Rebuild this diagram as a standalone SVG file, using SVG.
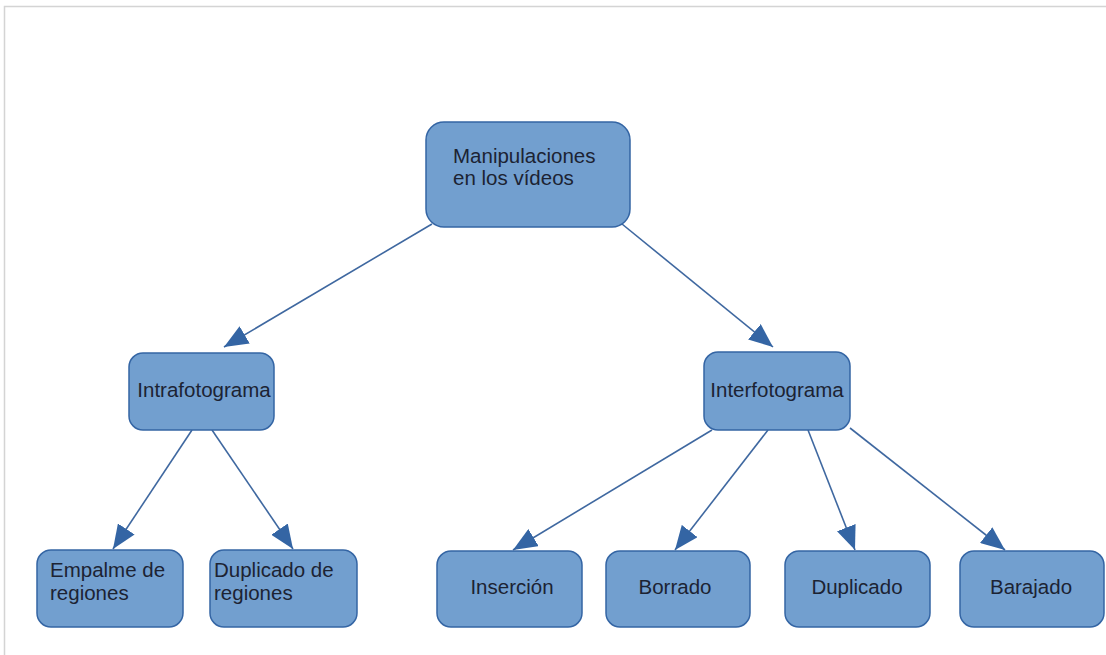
<svg xmlns="http://www.w3.org/2000/svg" width="1106" height="655" viewBox="0 0 1106 655">
  <style>
    .box { fill: #729fcf; stroke: #3465a4; stroke-width: 1.5; }
    .lbl { font-family: "Liberation Sans", Arial, sans-serif; font-size: 20.5px; fill: #1c2333; }
    .mid { text-anchor: middle; }
    .edge { stroke: #3f68a0; stroke-width: 1.6; fill: none; marker-end: url(#arrow); }
  </style>
  <defs>
    <marker id="arrow" viewBox="0 0 24 20" refX="24" refY="10" markerWidth="24" markerHeight="20" markerUnits="userSpaceOnUse" orient="auto">
      <path d="M0,0 L24,10 L0,20 Z" fill="#3465a4"/>
    </marker>
  </defs>
  <rect width="1106" height="655" fill="#ffffff"/>
  <!-- page frame -->
  <path d="M4.5,655 V6.5 H1106" fill="none" stroke="#d4d4d4" stroke-width="1.5"/>

  <g id="connectors">
    <line class="edge" x1="432" y1="224" x2="224" y2="347"/>
    <line class="edge" x1="622" y1="224" x2="773" y2="347"/>
    <line class="edge" x1="192" y1="430" x2="113" y2="549"/>
    <line class="edge" x1="212" y1="430" x2="293" y2="549"/>
    <line class="edge" x1="712" y1="430" x2="513" y2="550"/>
    <line class="edge" x1="768" y1="430" x2="675" y2="550"/>
    <line class="edge" x1="808" y1="430" x2="855" y2="550"/>
    <line class="edge" x1="850" y1="428" x2="1005" y2="550"/>
  </g>

  <g id="root">
    <rect class="box" x="426" y="122" width="204" height="105" rx="18"/>
    <text class="lbl" x="453" y="163">Manipulaciones</text>
    <text class="lbl" x="453" y="185">en los vídeos</text>
  </g>
  <g id="intra">
    <rect class="box" x="129" y="353" width="145" height="77" rx="14"/>
    <text class="lbl mid" x="204" y="397">Intrafotograma</text>
  </g>
  <g id="inter">
    <rect class="box" x="704" y="352" width="146" height="78" rx="14"/>
    <text class="lbl mid" x="777" y="397">Interfotograma</text>
  </g>
  <g id="empalme">
    <rect class="box" x="37" y="550" width="146" height="77" rx="14"/>
    <text class="lbl" x="50" y="577">Empalme de</text>
    <text class="lbl" x="50" y="600">regiones</text>
  </g>
  <g id="duplicado-regiones">
    <rect class="box" x="210" y="550" width="147" height="77" rx="14"/>
    <text class="lbl" x="214" y="577">Duplicado de</text>
    <text class="lbl" x="214" y="600">regiones</text>
  </g>
  <g id="insercion">
    <rect class="box" x="437" y="551" width="145" height="76" rx="14"/>
    <text class="lbl mid" x="512" y="594">Inserción</text>
  </g>
  <g id="borrado">
    <rect class="box" x="606" y="551" width="144" height="76" rx="14"/>
    <text class="lbl mid" x="675" y="594">Borrado</text>
  </g>
  <g id="duplicado">
    <rect class="box" x="785" y="551" width="145" height="76" rx="14"/>
    <text class="lbl mid" x="857" y="594">Duplicado</text>
  </g>
  <g id="barajado">
    <rect class="box" x="960" y="551" width="144" height="76" rx="14"/>
    <text class="lbl mid" x="1031" y="594">Barajado</text>
  </g>
</svg>
